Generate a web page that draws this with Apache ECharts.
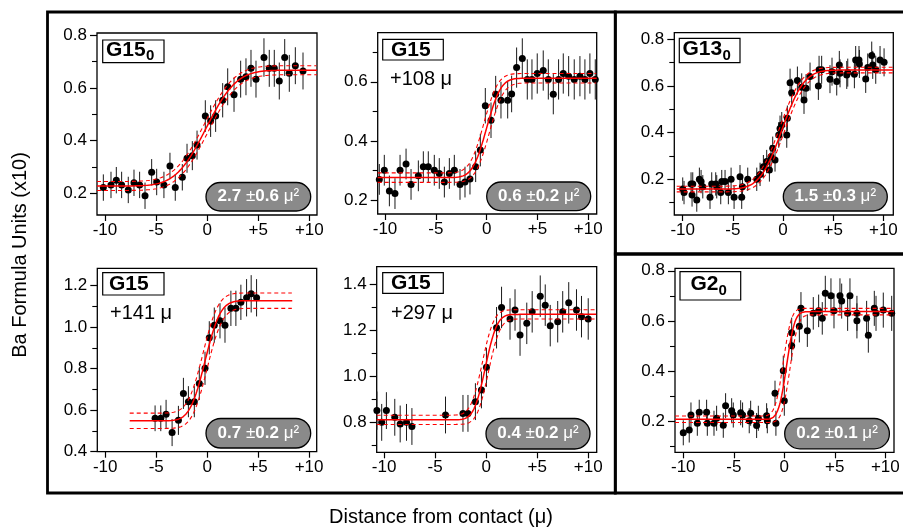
<!DOCTYPE html>
<html><head><meta charset="utf-8">
<script src="https://cdn.jsdelivr.net/npm/echarts@6/dist/echarts.min.js"></script>
<style>html,body{margin:0;padding:0;background:#fff}#c{width:903px;height:530px}</style>
</head><body><div id="c"></div>
<script>
// ---------------- DATA ----------------
// Panel 1: G15_0
const x1 = [-10.16,-9.41,-8.89,-8.37,-7.72,-7.16,-6.61,-6.08,-5.43,-4.94,-4.23,-3.64,-3.12,-2.43,-1.97,-1.45,-0.99,-0.18,0.34,0.83,1.52,2.01,2.63,3.28,3.80,4.29,4.78,5.56,6.08,6.57,7.06,7.59,8.04,8.63,9.38];
const y1 = [0.222,0.232,0.25,0.232,0.213,0.24,0.232,0.191,0.28,0.243,0.232,0.304,0.222,0.261,0.333,0.343,0.383,0.493,0.474,0.493,0.553,0.604,0.574,0.633,0.642,0.674,0.633,0.715,0.674,0.674,0.626,0.715,0.655,0.684,0.664];
const e1 = [0.05,0.05,0.05,0.05,0.05,0.05,0.05,0.05,0.05,0.05,0.05,0.05,0.05,0.05,0.055,0.055,0.055,0.06,0.06,0.06,0.065,0.07,0.065,0.07,0.07,0.07,0.07,0.073,0.07,0.07,0.07,0.07,0.07,0.07,0.07];
// Panel 2: G15 +108 µ
const x2 = [-10.56,-10.07,-9.57,-9.02,-8.52,-7.93,-7.44,-6.72,-6.23,-5.74,-5.15,-4.66,-4.16,-3.67,-3.18,-2.62,-2.13,-1.64,-1.08,-0.62,-0.13,0.43,0.89,1.41,2.07,2.46,2.95,3.51,4.0,4.46,4.98,5.57,6.07,6.56,7.08,7.54,8.07,8.62,9.18,9.67,10.16,10.69];
const y2 = [0.27,0.301,0.231,0.222,0.301,0.322,0.253,0.282,0.313,0.313,0.301,0.29,0.261,0.29,0.301,0.253,0.261,0.271,0.313,0.369,0.519,0.47,0.558,0.538,0.538,0.559,0.648,0.679,0.608,0.608,0.628,0.638,0.608,0.558,0.608,0.628,0.619,0.608,0.619,0.608,0.628,0.608];
const e2 = [0.052,0.052,0.052,0.052,0.052,0.052,0.052,0.052,0.052,0.052,0.052,0.052,0.052,0.052,0.052,0.052,0.052,0.052,0.052,0.055,0.06,0.06,0.062,0.062,0.062,0.062,0.068,0.068,0.068,0.068,0.068,0.068,0.068,0.068,0.068,0.068,0.068,0.068,0.068,0.068,0.068,0.068];
// Panel 3: G13_0
const x3 = [-10,-9.87,-9.17,-9.07,-9.0,-8.6,-8.34,-8.17,-8.0,-7.28,-7.11,-6.71,-6.61,-6.21,-6.11,-5.78,-5.45,-5.18,-4.88,-4.29,-4.12,-4.05,-3.52,-2.62,-2.29,-1.96,-1.63,-1.36,-1.2,-1.03,-0.8,-0.43,-0.3,-0.13,0.37,0.43,0.7,0.86,1.43,1.86,2.09,2.29,2.69,3.52,3.59,3.85,4.68,4.88,5.35,5.61,5.68,6.35,6.45,7.11,7.24,7.57,7.61,8.24,8.44,8.84,8.94,9.24,9.67,10.07];
const y3 = [0.158,0.143,0.18,0.133,0.18,0.111,0.2,0.19,0.168,0.123,0.18,0.18,0.168,0.143,0.19,0.19,0.143,0.2,0.123,0.211,0.123,0.168,0.2,0.2,0.221,0.254,0.276,0.24,0.297,0.333,0.283,0.39,0.418,0.433,0.39,0.461,0.614,0.571,0.623,0.594,0.54,0.59,0.64,0.6,0.669,0.669,0.629,0.661,0.619,0.69,0.654,0.647,0.657,0.65,0.711,0.711,0.694,0.63,0.679,0.73,0.69,0.669,0.711,0.701];
const e3 = [0.05,0.05,0.05,0.05,0.05,0.05,0.05,0.05,0.05,0.05,0.05,0.05,0.05,0.05,0.05,0.05,0.05,0.05,0.05,0.05,0.05,0.05,0.05,0.05,0.05,0.05,0.05,0.05,0.05,0.05,0.05,0.055,0.055,0.055,0.055,0.055,0.06,0.06,0.06,0.06,0.06,0.06,0.06,0.06,0.06,0.06,0.06,0.06,0.06,0.06,0.06,0.06,0.06,0.06,0.06,0.06,0.06,0.06,0.06,0.06,0.06,0.06,0.06,0.06];
// Panel 4: G15 +141 µ
const x4 = [-5.11,-4.55,-4.03,-3.44,-2.82,-2.33,-1.84,-1.26,-0.77,-0.21,0.21,0.70,1.26,1.75,2.33,2.82,3.31,3.87,4.32,4.85];
const y4 = [0.561,0.561,0.58,0.492,0.551,0.681,0.641,0.641,0.729,0.802,0.949,1.01,1.031,1.01,1.091,1.091,1.12,1.142,1.161,1.142];
const e4 = [0.062,0.062,0.07,0.065,0.07,0.075,0.075,0.075,0.08,0.08,0.08,0.085,0.085,0.085,0.085,0.085,0.085,0.09,0.09,0.09];
// Panel 5: G15 +297 µ
const x5 = [-10.7,-10.23,-9.77,-8.95,-8.42,-7.8,-7.27,-3.98,-2.27,-1.78,-1.05,-0.46,0.03,1.02,1.51,2.34,2.83,3.32,3.98,4.51,5.3,5.79,6.28,7.01,7.5,8.09,8.85,9.34,10.0];
const y5 = [0.852,0.801,0.852,0.823,0.794,0.801,0.783,0.833,0.84,0.84,0.891,0.942,1.04,1.212,1.3,1.25,1.289,1.18,1.231,1.281,1.349,1.31,1.221,1.238,1.281,1.32,1.289,1.26,1.25];
const e5 = [0.083,0.08,0.08,0.08,0.08,0.08,0.08,0.08,0.08,0.08,0.08,0.08,0.085,0.09,0.09,0.09,0.09,0.09,0.09,0.09,0.09,0.09,0.09,0.09,0.09,0.09,0.09,0.09,0.09];
// Panel 6: G2_0
const x6 = [-10,-9.41,-9.24,-8.61,-8.42,-7.69,-7.62,-6.96,-6.7,-6.04,-5.81,-5.21,-5.05,-4.32,-4.13,-3.47,-3.33,-2.74,-2.57,-1.75,-1.68,-0.92,-0.83,-0.1,0.0,0.73,0.73,1.49,1.65,2.28,2.87,3.4,3.76,4.06,4.62,4.92,5.51,5.68,6.27,6.5,7.19,7.19,8.15,8.32,8.91,9.08,9.8,10.63];
const y6 = [0.153,0.164,0.224,0.191,0.235,0.235,0.191,0.191,0.211,0.183,0.261,0.241,0.224,0.233,0.224,0.201,0.231,0.182,0.211,0.221,0.201,0.311,0.191,0.401,0.281,0.501,0.553,0.579,0.65,0.561,0.63,0.64,0.61,0.71,0.7,0.64,0.7,0.679,0.63,0.7,0.63,0.6,0.61,0.543,0.65,0.63,0.643,0.63];
const e6 = [0.05,0.05,0.05,0.05,0.05,0.05,0.05,0.05,0.05,0.05,0.05,0.05,0.05,0.05,0.05,0.05,0.05,0.05,0.05,0.05,0.05,0.05,0.05,0.06,0.06,0.06,0.06,0.065,0.065,0.065,0.065,0.065,0.065,0.07,0.07,0.07,0.07,0.07,0.07,0.07,0.07,0.07,0.07,0.07,0.07,0.07,0.07,0.07];

// Fit parameters (erf diffusion profile)
const fitLow    = [0.228, 0.276, 0.158, 0.549, 0.812, 0.207];
const fitHigh   = [0.667, 0.612, 0.668, 1.128, 1.270, 0.637];
const fitCenter = [-0.1, 0.0, -0.1, -0.2, -0.07, 0.23];
const fitD      = [2.7, 0.6, 1.5, 0.7, 0.4, 0.2];      // µ^2
const fitBand   = [0.017, 0.016, 0.012, 0.037, 0.02, 0.013];
const fitShift  = [0.15, 0.27, 0.2, 0.2, 0.3, 0.33];
const fitStart  = [-10.78, -10.72, -10.6, -7.6, -10.72, -10.82];
const fitEnd    = [10.75, 10.83, 10.99, 8.35, 10.83, 10.86];

// Text / ticks
const panelNames = ['G15', 'G15', 'G13', 'G15', 'G15', 'G2'];
const panelSubs  = ['0', '', '0', '', '', '0'];
const panelDist  = ['', '+108 \u03bc', '', '+141 \u03bc', '+297 \u03bc', ''];
const diffVal    = ['2.7', '0.6', '1.5', '0.7', '0.4', '0.2'];
const diffErr    = ['0.6', '0.2', '0.3', '0.2', '0.2', '0.1'];
const xTickValues = [-10, -5, 0, 5, 10];
const yTickValues = [[0.2,0.4,0.6,0.8],[0.2,0.4,0.6],[0.2,0.4,0.6,0.8],[0.4,0.6,0.8,1.0,1.2],[0.8,1.0,1.2,1.4],[0.2,0.4,0.6,0.8]];
const yMinorValues = [[0.3,0.5,0.7],[0.3,0.5,0.7],[0.1,0.3,0.5,0.7],[0.5,0.7,0.9,1.1],[0.7,0.9,1.1,1.3],[0.1,0.3,0.5,0.7]];
const xRange = [[-10.78,10.75],[-10.72,10.83],[-10.84,10.99],[-10.78,10.75],[-10.72,10.83],[-10.82,10.86]];
const yRange = [[0.118,0.808],[0.153,0.766],[0.047,0.828],[0.4,1.284],[0.671,1.477],[0.075,0.81]];
const yTitle = 'Ba Formula Units (x10)';
const xTitle = 'Distance from contact (\u03bc)';

// ---------------- LAYOUT ----------------
const FONT = '"Liberation Sans", Arial, Helvetica, sans-serif';
const gridLayout = [
  [97, 33, 220, 182],
  [377.7, 32.7, 219, 181.3],
  [674.3, 32.7, 219, 182.3],
  [97.3, 268.3, 219.4, 183.4],
  [376.7, 266.7, 220, 185.6],
  [675, 268.3, 219, 184]
];
const labelLayout = [
  {box:[102.7,40,61.3,22.7], nx:106, ny:50, sx:146, sy:55.5},
  {box:[382.7,39.3,60.6,20.7], nx:391, ny:49.8, dx:390, dy:79.5},
  {box:[679.3,38.3,60.7,24.4], nx:682.5, ny:49.5, sx:722.5, sy:56},
  {box:[102.7,272.7,61.3,22.3], nx:109, ny:284, dx:110, dy:313},
  {box:[382.7,272.7,60.6,20.7], nx:391, ny:283.3, dx:391, dy:313},
  {box:[680,271.7,60.7,28.3], nx:690.5, ny:284.5, sx:718.5, sy:290.5}
];
const pillLayout = [
  [206,182.5,104.7,28.5],[486.7,182,104,28.7],[783.3,182.5,104,28.5],
  [206,418.5,104.7,29.5],[486,418.5,104,30.5],[784.7,418.5,104.7,30.3]
];

function erf(x){
  const s = x < 0 ? -1 : 1; x = Math.abs(x);
  const t = 1/(1+0.3275911*x);
  const y = 1-(((((1.061405429*t-1.453152027)*t)+1.421413741)*t-0.284496736)*t+0.254829592)*t*Math.exp(-x*x);
  return s*y;
}
function fitCurve(i, dLevel, dShift){
  const lo = fitLow[i]+dLevel, hi = fitHigh[i]+dLevel, c = fitCenter[i]+dShift, w = 2*Math.sqrt(fitD[i]);
  const pts = [];
  const n = 400;
  for (let k=0;k<=n;k++){
    const xv = fitStart[i] + (fitEnd[i]-fitStart[i])*k/n;
    pts.push([xv, lo + (hi-lo)*0.5*(1+erf((xv-c)/w))]);
  }
  return pts;
}

const panels = [[x1,y1,e1],[x2,y2,e2],[x3,y3,e3],[x4,y4,e4],[x5,y5,e5],[x6,y6,e6]];
const option = {animation:false, backgroundColor:'#fff', grid:[], xAxis:[], yAxis:[], series:[], graphic:[]};

for (let i=0;i<6;i++){
  const g = gridLayout[i];
  option.grid.push({left:g[0], top:g[1], width:g[2], height:g[3], show:true, borderColor:'#000', borderWidth:1.3, backgroundColor:'transparent'});
  option.xAxis.push({type:'value', gridIndex:i, min:xRange[i][0], max:xRange[i][1],
    axisLine:{show:false, onZero:false}, splitLine:{show:false},
    axisTick:{show:true, length:6, lineStyle:{color:'#000', width:1.2}, customValues:xTickValues},
    axisLabel:{customValues:xTickValues, formatter:v => v>0 ? '+'+v : String(v), color:'#000', fontSize:17, fontFamily:FONT, margin:7}});
  option.yAxis.push({type:'value', gridIndex:i, position:'left', min:yRange[i][0], max:yRange[i][1],
    axisLine:{show:false, onZero:false}, splitLine:{show:false},
    axisTick:{show:true, length:7, lineStyle:{color:'#000', width:1.2}, customValues:yTickValues[i]},
    axisLabel:{customValues:yTickValues[i], formatter:v => v.toFixed(1), color:'#000', fontSize:17, fontFamily:FONT, margin:10}});
  option.yAxis.push({type:'value', gridIndex:i, position:'left', min:yRange[i][0], max:yRange[i][1],
    axisLine:{show:false, onZero:false}, splitLine:{show:false},
    axisTick:{show:true, length:5, lineStyle:{color:'#000', width:1.1}, customValues:yMinorValues[i]},
    axisLabel:{show:false}});
  const [xs, ys, es] = panels[i];
  option.series.push({type:'custom', xAxisIndex:i, yAxisIndex:2*i, clip:true, z:2,
    data: xs.map((v,k)=>[v, ys[k], es[k]]), encode:{x:0, y:1},
    renderItem:(params, api)=>{
      const xv = api.value(0), yv = api.value(1), ev = api.value(2);
      const a = api.coord([xv, yv-ev]), b = api.coord([xv, yv+ev]);
      return {type:'line', shape:{x1:a[0], y1:a[1], x2:b[0], y2:b[1]}, style:{stroke:'#1a1a1a', lineWidth:1}};
    }});
  option.series.push({type:'scatter', xAxisIndex:i, yAxisIndex:2*i, z:3, symbolSize:7,
    itemStyle:{color:'#000', opacity:1}, data: xs.map((v,k)=>[v, ys[k]])});
  option.series.push({type:'line', xAxisIndex:i, yAxisIndex:2*i, z:4, showSymbol:false, symbol:'none', silent:true,
    lineStyle:{color:'#ff0000', width:1.5}, data: fitCurve(i, 0, 0)});
  option.series.push({type:'line', xAxisIndex:i, yAxisIndex:2*i, z:4, showSymbol:false, symbol:'none', silent:true,
    lineStyle:{color:'#ff0000', width:1.1, type:[4,3]}, data: fitCurve(i, fitBand[i], -fitShift[i])});
  option.series.push({type:'line', xAxisIndex:i, yAxisIndex:2*i, z:4, showSymbol:false, symbol:'none', silent:true,
    lineStyle:{color:'#ff0000', width:1.1, type:[4,3]}, data: fitCurve(i, -fitBand[i], fitShift[i])});

  // label box
  const L = labelLayout[i];
  option.graphic.push({type:'rect', z:100, shape:{x:L.box[0], y:L.box[1], width:L.box[2], height:L.box[3]},
    style:{fill:'#fff', stroke:'#000', lineWidth:1.2}});
  option.graphic.push({type:'text', z:101, x:L.nx, y:L.ny,
    style:{text:panelNames[i], font:'bold 21px '+FONT, fill:'#000', align:'left', verticalAlign:'middle', textAlign:'left', textVerticalAlign:'middle'}});
  if (panelSubs[i]) option.graphic.push({type:'text', z:101, x:L.sx, y:L.sy,
    style:{text:panelSubs[i], font:'bold 15px '+FONT, fill:'#000', align:'left', verticalAlign:'middle', textAlign:'left', textVerticalAlign:'middle'}});
  if (panelDist[i]) option.graphic.push({type:'text', z:101, x:L.dx, y:L.dy,
    style:{text:panelDist[i], font:'20px '+FONT, fill:'#000', align:'left', verticalAlign:'middle', textAlign:'left', textVerticalAlign:'middle'}});
  // pill
  const P = pillLayout[i];
  option.graphic.push({type:'rect', z:100, shape:{x:P[0], y:P[1], width:P[2], height:P[3], r:P[3]/2},
    style:{fill:'#8a8a8a', stroke:'#000', lineWidth:1.3}});
  option.graphic.push({type:'text', z:101, x:P[0]+P[2]/2, y:P[1]+P[3]/2,
    style:{text:'{b|'+diffVal[i]+' }{r|\u00b1}{b|'+diffErr[i]+' }{r|\u03bc\u00b2}',
      rich:{b:{font:'bold 17px '+FONT, fill:'#fff'}, r:{font:'17px '+FONT, fill:'#fff'}},
      fill:'#fff', align:'center', verticalAlign:'middle', textAlign:'center', textVerticalAlign:'middle'}});
}

// outer frames
option.graphic.push({type:'rect', z:100, shape:{x:47.5, y:12, width:567.8, height:481}, style:{fill:'transparent', stroke:'#000', lineWidth:2.8}});
option.graphic.push({type:'rect', z:100, shape:{x:615.3, y:12, width:300, height:242}, style:{fill:'transparent', stroke:'#000', lineWidth:2.8}});
option.graphic.push({type:'rect', z:100, shape:{x:615.3, y:254, width:300, height:239}, style:{fill:'transparent', stroke:'#000', lineWidth:2.8}});
// axis titles
option.graphic.push({type:'text', z:100, x:20, y:255, rotation:Math.PI/2,
  style:{text:yTitle, font:'20px '+FONT, fill:'#000', align:'center', verticalAlign:'middle', textAlign:'center', textVerticalAlign:'middle'}});
option.graphic.push({type:'text', z:100, x:441, y:517,
  style:{text:xTitle, font:'20px '+FONT, fill:'#000', align:'center', verticalAlign:'middle', textAlign:'center', textVerticalAlign:'middle'}});

const chart = echarts.init(document.getElementById('c'), null, {renderer:'canvas'});
chart.setOption(option);
</script>
</body></html>
